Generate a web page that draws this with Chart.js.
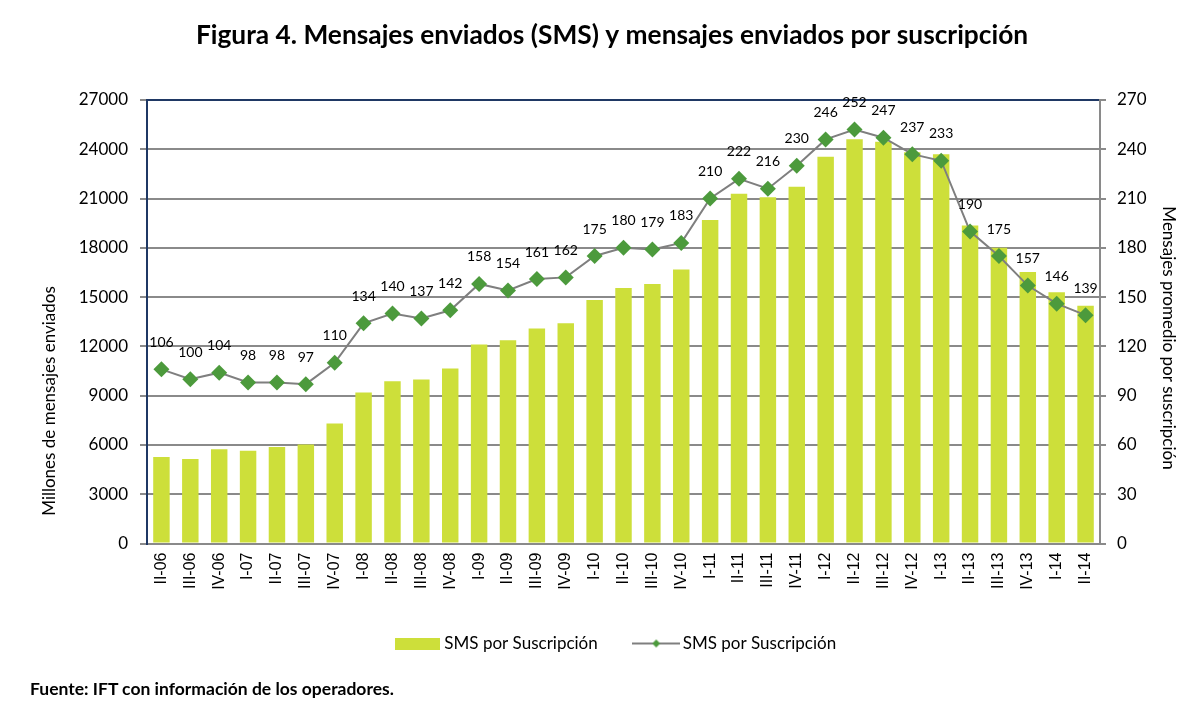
<!DOCTYPE html>
<html>
<head>
<meta charset="utf-8">
<script src="https://cdn.jsdelivr.net/npm/chart.js@4.4.1/dist/chart.umd.min.js"></script>
<style>
  html, body { margin: 0; padding: 0; background: #fff; }
  #wrap { position: relative; width: 1200px; height: 705px; }
  #footer { position: absolute; left: 30px; top: 678px; font: bold 17.5px Lato, sans-serif; color: #000; }
</style>
</head>
<body>
<div id="wrap">
  <canvas id="c" width="1200" height="705"></canvas>
  <div id="footer">Fuente: IFT con información de los operadores.</div>
</div>
<script>
const categories = ['II-06','III-06','IV-06',
  'I-07','II-07','III-07','IV-07',
  'I-08','II-08','III-08','IV-08',
  'I-09','II-09','III-09','IV-09',
  'I-10','II-10','III-10','IV-10',
  'I-11','II-11','III-11','IV-11',
  'I-12','II-12','III-12','IV-12',
  'I-13','II-13','III-13','IV-13',
  'I-14','II-14'];
const smsMillions = [5260,5140,5730,5650,5870,6020,7300,
  9190,9880,9980,10650,
  12110,12370,13090,13410,
  14830,15550,15790,16680,
  19690,21290,21070,21720,
  23550,24610,24450,23810,
  23690,19360,18000,16520,
  15300,14470];
const smsPerSubscription = [106,100,104,98,98,97,110,
  134,140,137,142,
  158,154,161,162,
  175,180,179,183,
  210,222,216,230,
  246,252,247,237,
  233,190,175,157,
  146,139];
const leftTicks = [0,3000,6000,9000,12000,15000,18000,21000,24000,27000];
const rightTicks = [0,30,60,90,120,150,180,210,240,270];

const BAR_COLOR = '#cddf3a';
const LINE_COLOR = '#7f7f7f';
const MARKER_COLOR = '#4c9a3c';
const NAVY = '#1f3864';
const GRID = '#8a8a8a';
const FONT = 'Lato, "Open Sans", sans-serif';

function makeSwatch(w, h, draw) {
  const cv = document.createElement('canvas');
  cv.width = w; cv.height = h;
  draw(cv.getContext('2d'));
  return cv;
}
const barSwatch = makeSwatch(45, 12, g => { g.fillStyle = BAR_COLOR; g.fillRect(0, 0, 45, 12); });
const lineSwatch = makeSwatch(48, 12, g => {
  g.strokeStyle = LINE_COLOR; g.lineWidth = 2;
  g.beginPath(); g.moveTo(0, 6); g.lineTo(48, 6); g.stroke();
  g.fillStyle = MARKER_COLOR;
  g.beginPath(); g.moveTo(24, 2); g.lineTo(28, 6); g.lineTo(24, 10); g.lineTo(20, 6); g.closePath(); g.fill();
});

const labelPlugin = {
  id: 'pointLabels',
  afterDatasetsDraw(chart) {
    const ctx = chart.ctx;
    const meta = chart.getDatasetMeta(1);
    ctx.save();
    ctx.font = '14px ' + FONT;
    ctx.fillStyle = '#000';
    ctx.textAlign = 'center';
    ctx.textBaseline = 'middle';
    meta.data.forEach((pt, i) => {
      ctx.fillText(String(smsPerSubscription[i]), pt.x, pt.y - 27);
    });
    ctx.restore();
  }
};

const axisTitlePlugin = {
  id: 'axisTitles',
  afterDraw(chart) {
    const ctx = chart.ctx;
    ctx.save();
    ctx.font = '17px ' + FONT;
    ctx.fillStyle = '#000';
    ctx.textAlign = 'center';
    ctx.textBaseline = 'middle';
    ctx.save();
    ctx.translate(50, 401);
    ctx.rotate(-Math.PI / 2);
    ctx.fillText('Millones de mensajes enviados', 0, 0);
    ctx.restore();
    ctx.save();
    ctx.translate(1168, 338);
    ctx.rotate(Math.PI / 2);
    ctx.fillText('Mensajes promedio por suscripción', 0, 0);
    ctx.restore();
    ctx.restore();
  }
};

// shift the title and legend blocks horizontally, as in the reference
const shiftPlugin = {
  id: 'shiftBlocks',
  afterLayout(chart) {
    if (chart.titleBlock) { chart.titleBlock.left += 12; chart.titleBlock.right += 12; }
    if (chart.legend) { chart.legend.left += 18; chart.legend.right += 18; }
  }
};

new Chart(document.getElementById('c'), {
  data: {
    labels: categories,
    datasets: [
      {
        type: 'bar',
        label: 'SMS por Suscripción',
        data: smsMillions,
        backgroundColor: BAR_COLOR,
        yAxisID: 'y',
        categoryPercentage: 1,
        barPercentage: 0.57,
        order: 2
      },
      {
        type: 'line',
        label: 'SMS por Suscripción',
        data: smsPerSubscription,
        borderColor: LINE_COLOR,
        borderWidth: 2,
        pointStyle: 'rectRot',
        pointRadius: 8,
        pointHoverRadius: 8,
        pointBackgroundColor: MARKER_COLOR,
        pointBorderColor: MARKER_COLOR,
        pointBorderWidth: 0,
        yAxisID: 'y1',
        tension: 0,
        order: 1
      }
    ]
  },
  options: {
    responsive: false,
    animation: false,
    devicePixelRatio: 1,
    layout: { padding: { left: 0, right: 0, top: 0, bottom: 43 } },
    plugins: {
      title: {
        display: true,
        text: 'Figura 4. Mensajes enviados (SMS) y mensajes enviados por suscripción',
        font: { family: FONT, size: 26.3, weight: 'bold' },
        color: '#000',
        padding: { top: 19.5, bottom: 48.9 }
      },
      legend: {
        display: true,
        position: 'bottom',
        labels: {
          usePointStyle: true,
          pointStyleWidth: 36,
          padding: 40.5,
          color: '#000',
          font: { family: FONT, size: 17 },
          generateLabels(chart) {
            return chart.data.datasets.map((ds, i) => ({
              text: ds.label,
              datasetIndex: i,
              pointStyle: i === 0 ? barSwatch : lineSwatch,
              fillStyle: 'transparent',
              strokeStyle: 'transparent',
              lineWidth: 0,
              hidden: false,
              fontColor: '#000'
            }));
          }
        }
      },
      tooltip: { enabled: false }
    },
    scales: {
      x: {
        offset: true,
        grid: { display: false, drawTicks: false },
        border: { display: true, color: GRID, width: 2 },
        ticks: {
          color: '#000',
          font: { family: '"Liberation Sans", Arial, sans-serif', size: 16 },
          minRotation: 90, maxRotation: 90,
          padding: 9,
          autoSkip: false
        },
        afterFit(scale) { scale.height = 51; }
      },
      y: {
        position: 'left',
        min: 0, max: 27000,
        afterBuildTicks(scale) { scale.ticks = leftTicks.map(v => ({ value: v })); },
        ticks: {
          color: '#000',
          font: { family: FONT, size: 17 },
          padding: 12,
          callback: v => String(v)
        },
        grid: {
          color: ctx => (ctx.tick && ctx.tick.value === 27000) ? NAVY : GRID,
          lineWidth: 2,
          tickLength: 7,
          tickColor: GRID
        },
        border: { display: true, color: NAVY, width: 2 },
        afterFit(scale) { scale.width = 147; }
      },
      y1: {
        position: 'right',
        min: 0, max: 270,
        afterBuildTicks(scale) { scale.ticks = rightTicks.map(v => ({ value: v })); },
        ticks: {
          color: '#000',
          font: { family: FONT, size: 17 },
          padding: 11,
          callback: v => String(v)
        },
        grid: { drawOnChartArea: false, tickLength: 6, color: GRID, lineWidth: 2 },
        border: { display: true, color: GRID, width: 2 },
        afterFit(scale) { scale.width = 100; }
      }
    }
  },
  plugins: [labelPlugin, axisTitlePlugin, shiftPlugin]
});
</script>
</body>
</html>
